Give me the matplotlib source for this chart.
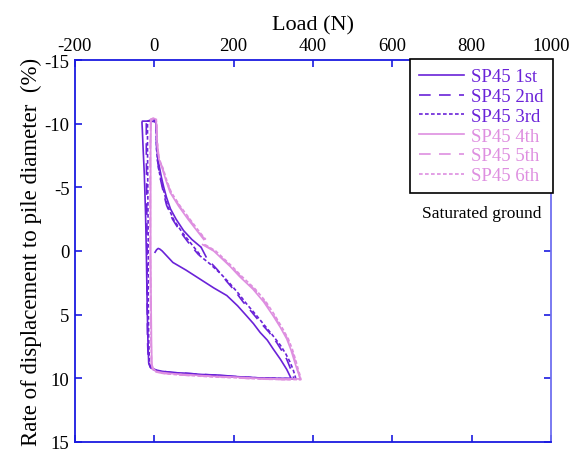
import numpy as np
import matplotlib
matplotlib.use("Agg")
from matplotlib import pyplot as plt

plt.rcParams['font.family'] = ['Liberation Serif', 'DejaVu Serif']
plt.rcParams['axes.unicode_minus'] = False

# ---- data (load in N, displacement ratio in %) ----
load_1st = [2, 6, 10, 14, 20, 35, 47, 80, 115, 150, 183, 210, 233, 250, 267, 285, 300, 318, 334, 345,
            300, 250, 200, 166, 120, 80, 47, 20, 5, -8, -14, -16, -18, -20, -22, -25, -28, -30, -31,
            -30, -20, -8, 2, 5, 6, 7, 9, 13, 18, 24, 31, 41, 55, 74, 95, 118]
disp_1st = [0.1, -0.1, -0.2, -0.15, 0.0, 0.5, 0.9, 1.5, 2.2, 2.9, 3.5, 4.3, 5.1, 5.7, 6.4, 7.0, 7.7, 8.5, 9.3, 10.0,
            10.0, 9.95, 9.85, 9.75, 9.7, 9.6, 9.55, 9.45, 9.35, 9.2, 8.8, 7.0, 4.0, 0.0, -3.0, -6.0, -8.0, -9.5, -10.1,
            -10.2, -10.2, -10.2, -10.15, -10.0, -9.0, -8.0, -7.2, -6.6, -5.8, -5.0, -4.2, -3.3, -2.5, -1.6, -0.9, -0.3]

load_2nd = [118, 133, 160, 183, 205, 224, 246, 267, 290, 309, 325, 334, 343, 350, 352,
            300, 250, 200, 150, 100, 50, 20, 4, -10, -15, -17, -18, -18, -19, -20, -20,
            -10, 0, 4, 5, 6, 8, 11, 16, 23, 31, 46, 66, 90, 112]
disp_2nd = [-0.3, 0.6, 1.5, 2.4, 3.2, 4.0, 4.8, 5.6, 6.4, 7.2, 8.0, 8.5, 9.2, 9.8, 10.05,
            10.0, 9.95, 9.85, 9.75, 9.65, 9.55, 9.45, 9.35, 9.15, 8.7, 7.0, 4.0, 0.0, -4.0, -8.0, -10.1,
            -10.25, -10.25, -10.1, -9.0, -8.0, -7.2, -6.5, -5.6, -4.6, -3.6, -2.5, -1.5, -0.5, 0.3]

load_3rd = [112, 140, 168, 192, 214, 234, 256, 277, 298, 318, 332, 342, 350, 355, 357,
            300, 250, 200, 150, 100, 50, 20, 3, -8, -12, -14, -15, -15, -16, -17, -17,
            -8, 0, 4, 5, 6, 8, 11, 17, 25, 34, 50, 72, 95, 118]
disp_3rd = [0.3, 1.0, 1.8, 2.6, 3.4, 4.2, 5.0, 5.8, 6.6, 7.4, 8.1, 8.7, 9.3, 9.8, 10.05,
            10.0, 9.95, 9.9, 9.8, 9.7, 9.6, 9.5, 9.4, 9.2, 8.8, 7.0, 4.0, 0.0, -4.0, -8.0, -10.2,
            -10.3, -10.3, -10.1, -9.0, -8.0, -7.2, -6.5, -5.5, -4.6, -3.5, -2.4, -1.4, -0.5, 0.4]

load_4th = [122, 150, 191, 215, 249, 276, 300, 318, 334, 344, 352, 360, 366, 368,
            320, 260, 200, 150, 100, 50, 20, 4, -3, -6, -7, -8, -9, -9, -9, -8,
            0, 4, 5, 6, 8, 12, 20, 30, 40, 62, 85, 110, 125]
disp_4th = [-0.5, 0.0, 1.2, 2.0, 3.0, 4.0, 5.1, 6.0, 6.9, 7.7, 8.5, 9.3, 9.8, 10.05,
            10.05, 10.0, 9.9, 9.85, 9.75, 9.65, 9.55, 9.45, 9.2, 8.9, 7.0, 4.0, 0.0, -4.0, -8.0, -10.3,
            -10.4, -10.35, -10.0, -9.0, -8.0, -7.2, -6.5, -5.5, -4.6, -3.5, -2.5, -1.5, -0.9]

load_5th = [125, 152, 193, 218, 252, 279, 302, 320, 336, 346, 354, 361, 366, 368,
            320, 260, 200, 150, 100, 50, 20, 4, -4, -7, -8, -9, -10, -10, -10, -9,
            0, 5, 6, 7, 9, 13, 21, 31, 42, 64, 88, 112, 128]
disp_5th = [-0.5, 0.0, 1.2, 2.0, 3.0, 4.0, 5.1, 6.0, 6.9, 7.7, 8.5, 9.3, 9.8, 10.1,
            10.1, 10.05, 9.95, 9.85, 9.8, 9.7, 9.6, 9.5, 9.25, 8.9, 7.0, 4.0, 0.0, -4.0, -8.0, -10.35,
            -10.45, -10.4, -10.0, -9.0, -8.0, -7.2, -6.5, -5.5, -4.6, -3.5, -2.5, -1.5, -0.9]

load_6th = [128, 155, 196, 221, 255, 282, 305, 322, 338, 348, 356, 363, 368, 370,
            320, 260, 200, 150, 100, 50, 20, 4, -4, -7, -8, -9, -10, -10, -10, -9,
            0, 5, 6, 7, 9, 13, 22, 32, 43, 66, 90, 114, 130]
disp_6th = [-0.5, 0.0, 1.2, 2.0, 3.0, 4.0, 5.1, 6.0, 6.9, 7.7, 8.5, 9.3, 9.8, 10.1,
            10.1, 10.05, 9.95, 9.9, 9.8, 9.7, 9.6, 9.5, 9.3, 9.0, 7.0, 4.0, 0.0, -4.0, -8.0, -10.35,
            -10.45, -10.4, -10.0, -9.0, -8.0, -7.2, -6.5, -5.5, -4.6, -3.5, -2.5, -1.5, -0.9]

labels = ['SP45 1st', 'SP45 2nd', 'SP45 3rd', 'SP45 4th', 'SP45 5th', 'SP45 6th']
loads = [load_1st, load_2nd, load_3rd, load_4th, load_5th, load_6th]
disps = [disp_1st, disp_2nd, disp_3rd, disp_4th, disp_5th, disp_6th]

dark = '#6a22d8'
light = '#de8fe0'
colors = [dark, dark, dark, light, light, light]
styles = ['-', (0, (7, 5)), (0, (2.2, 1.4)), '-', (0, (7, 5)), (0, (2.2, 1.4))]

fig = plt.figure(figsize=(5.72, 4.52), dpi=100)
ax = fig.add_axes([0.131, 0.020, 0.832, 0.845])

for x, y, c, ls, lab in zip(loads, disps, colors, styles, labels):
    ax.plot(x, y, color=c, linestyle=ls, linewidth=1.2, label=lab)

ax.set_xlim(-200, 1000)
ax.set_ylim(15, -15)
ax.set_xticks(np.arange(-200, 1001, 200))
ax.set_yticks(np.arange(-15, 16, 5))

ax.xaxis.set_label_position('top')
ax.xaxis.tick_top()
ax.set_xlabel('Load (N)', fontsize=16, labelpad=6)
ax.set_ylabel('Rate of displacement to pile diameter  (%)', fontsize=16.5, labelpad=2)

ax.tick_params(axis='both', which='both', direction='in', labelsize=13.5,
               colors='#1a1ae0', labelcolor='black', length=5, width=1.2,
               top=True, bottom=True, left=True, right=True, pad=4)

for name, sp in ax.spines.items():
    sp.set_color('#1a1ae0')
    sp.set_linewidth(1.3)
ax.spines['right'].set_color('#6f6ff0')

leg = ax.legend(loc='upper right', bbox_to_anchor=(1.004, 1.003), fontsize=13.5,
                frameon=True, fancybox=False, edgecolor='black', framealpha=1,
                handlelength=2.4, handletextpad=0.35, labelspacing=0.14,
                borderpad=0.5, borderaxespad=0)
leg.get_frame().set_linewidth(1.2)
for txt, c in zip(leg.get_texts(), colors):
    txt.set_color(c)

ax.text(0.98, 0.6, 'Saturated ground', transform=ax.transAxes, ha='right', va='center',
        fontsize=12.5)

fig.savefig('out.png', dpi=100)
